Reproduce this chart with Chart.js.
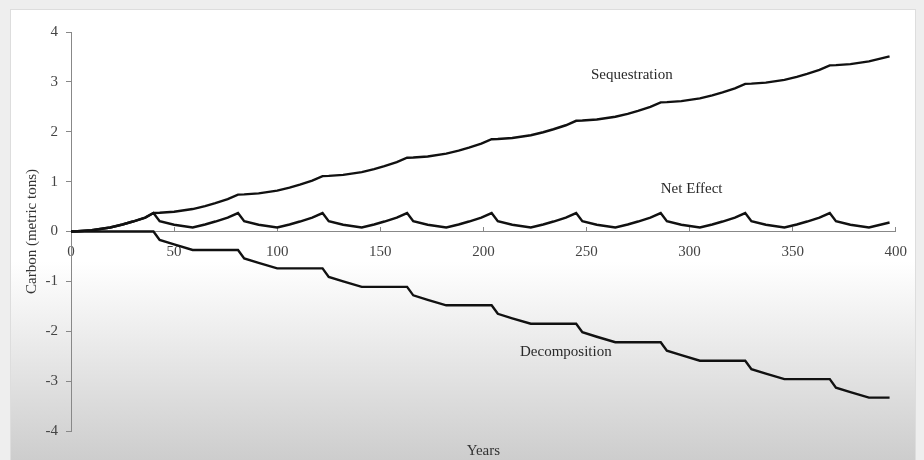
<!DOCTYPE html>
<html>
<head>
<meta charset="utf-8">
<script src="https://cdn.jsdelivr.net/npm/chart.js@4.4.1/dist/chart.umd.min.js"></script>
<style>
  html, body { margin: 0; padding: 0; background: #eeeeee; }
  #wrap { width: 924px; height: 460px; }
</style>
</head>
<body>
<div id="wrap"><canvas id="chart" width="924" height="460"></canvas></div>
<script>
// years sampled along the run (harvest every ~41 years)
var years = [0, 3, 10, 19, 25, 30, 36, 40,
    43, 50, 59, 65, 70, 76, 81,
    84, 91, 100, 106, 111, 117, 122,
    125, 132, 141, 147, 152, 158, 163,
    166, 173, 182, 188, 193, 199, 204,
    207, 214, 223, 229, 234, 240, 245,
    248, 255, 264, 270, 275, 281, 286,
    289, 296, 305, 311, 316, 322, 327,
    330, 337, 346, 352, 357, 363, 368,
    371, 378, 387, 393, 397];

var sequestration = [0, 0.005, 0.025, 0.08, 0.14, 0.2, 0.28, 0.37,
    0.375, 0.395, 0.45, 0.51, 0.57, 0.65, 0.74,
    0.745, 0.765, 0.82, 0.88, 0.94, 1.02, 1.11,
    1.115, 1.135, 1.19, 1.25, 1.31, 1.39, 1.48,
    1.485, 1.505, 1.56, 1.62, 1.68, 1.76, 1.85,
    1.855, 1.875, 1.93, 1.99, 2.05, 2.13, 2.22,
    2.225, 2.245, 2.3, 2.36, 2.42, 2.5, 2.59,
    2.595, 2.615, 2.67, 2.73, 2.79, 2.87, 2.96,
    2.965, 2.985, 3.04, 3.1, 3.16, 3.24, 3.33,
    3.335, 3.355, 3.41, 3.47, 3.51];

var decomposition = [0, 0, 0, 0, 0, 0, 0, 0,
    -0.17, -0.26, -0.37, -0.37, -0.37, -0.37, -0.37,
    -0.54, -0.63, -0.74, -0.74, -0.74, -0.74, -0.74,
    -0.91, -1.0, -1.11, -1.11, -1.11, -1.11, -1.11,
    -1.28, -1.37, -1.48, -1.48, -1.48, -1.48, -1.48,
    -1.65, -1.74, -1.85, -1.85, -1.85, -1.85, -1.85,
    -2.02, -2.11, -2.22, -2.22, -2.22, -2.22, -2.22,
    -2.39, -2.48, -2.59, -2.59, -2.59, -2.59, -2.59,
    -2.76, -2.85, -2.96, -2.96, -2.96, -2.96, -2.96,
    -3.13, -3.22, -3.33, -3.33, -3.33];

var netEffect = [0, 0.005, 0.025, 0.08, 0.14, 0.2, 0.28, 0.37,
    0.205, 0.135, 0.08, 0.14, 0.2, 0.28, 0.37,
    0.205, 0.135, 0.08, 0.14, 0.2, 0.28, 0.37,
    0.205, 0.135, 0.08, 0.14, 0.2, 0.28, 0.37,
    0.205, 0.135, 0.08, 0.14, 0.2, 0.28, 0.37,
    0.205, 0.135, 0.08, 0.14, 0.2, 0.28, 0.37,
    0.205, 0.135, 0.08, 0.14, 0.2, 0.28, 0.37,
    0.205, 0.135, 0.08, 0.14, 0.2, 0.28, 0.37,
    0.205, 0.135, 0.08, 0.14, 0.2, 0.28, 0.37,
    0.205, 0.135, 0.08, 0.14, 0.18];

var seriesNames = ['Sequestration', 'Net Effect', 'Decomposition'];

var serif = '"Liberation Serif", "DejaVu Serif", serif';

function toPoints(vals) {
    var pts = [];
    for (var i = 0; i < years.length; i++) {
        pts.push({ x: years[i], y: vals[i] });
    }
    return pts;
}

// background: light frame, white panel fading to grey at the bottom
var backdrop = {
    id: 'backdrop',
    beforeDraw: function (chart) {
        var ctx = chart.ctx;
        ctx.save();
        ctx.fillStyle = '#eeeeee';
        ctx.fillRect(0, 0, chart.width, chart.height);
        var g = ctx.createLinearGradient(0, 9, 0, chart.height);
        g.addColorStop(0, '#ffffff');
        g.addColorStop(0.56, '#ffffff');
        g.addColorStop(0.78, '#e6e6e6');
        g.addColorStop(1, '#cdcdcd');
        ctx.fillStyle = g;
        ctx.fillRect(10, 9, 906, chart.height - 9);
        ctx.strokeStyle = '#dddddd';
        ctx.lineWidth = 1;
        ctx.strokeRect(10.5, 9.5, 905, chart.height - 9);
        ctx.restore();
    }
};

// series names written next to their curves
var curveNames = {
    id: 'curveNames',
    afterDatasetsDraw: function (chart) {
        var ctx = chart.ctx;
        var xs = chart.scales.x, ys = chart.scales.y;
        var spots = [[272, 3.13], [301, 0.86], [240, -2.42]];
        ctx.save();
        ctx.font = '15px ' + serif;
        ctx.fillStyle = '#2a2a2a';
        ctx.textAlign = 'center';
        ctx.textBaseline = 'middle';
        for (var i = 0; i < seriesNames.length; i++) {
            ctx.fillText(seriesNames[i], xs.getPixelForValue(spots[i][0]), ys.getPixelForValue(spots[i][1]));
        }
        ctx.restore();
    }
};

var lineStyle = {
    borderColor: '#111111',
    borderWidth: 2.4,
    pointRadius: 0,
    tension: 0,
    fill: false
};

var ctx = document.getElementById('chart').getContext('2d');
var myChart = new Chart(ctx, {
    type: 'line',
    data: {
        datasets: [
            Object.assign({ label: seriesNames[0], data: toPoints(sequestration) }, lineStyle),
            Object.assign({ label: seriesNames[1], data: toPoints(netEffect) }, lineStyle),
            Object.assign({ label: seriesNames[2], data: toPoints(decomposition) }, lineStyle)
        ]
    },
    options: {
        responsive: false,
        animation: false,
        layout: { padding: { top: 32, right: 28, left: 0, bottom: 0 } },
        plugins: {
            legend: { display: false },
            tooltip: { enabled: false }
        },
        scales: {
            x: {
                type: 'linear',
                position: { y: 0 },
                min: 0,
                max: 400,
                ticks: {
                    stepSize: 50,
                    color: '#444444',
                    padding: 17,
                    maxRotation: 0,
                    font: { family: serif, size: 15 }
                },
                grid: {
                    drawOnChartArea: false,
                    drawTicks: true,
                    tickLength: -5,
                    color: '#888888'
                },
                border: { color: '#888888', width: 1 }
            },
            x2: {
                type: 'linear',
                position: 'bottom',
                min: 0,
                max: 400,
                display: true,
                ticks: { display: false },
                grid: { display: false, drawTicks: false },
                border: { display: false },
                title: {
                    display: true,
                    text: 'Years',
                    color: '#333333',
                    padding: 0,
                    font: { family: serif, size: 15 }
                },
                afterFit: function (scale) { scale.height = 29; }
            },
            y: {
                min: -4,
                max: 4,
                ticks: {
                    stepSize: 1,
                    color: '#444444',
                    padding: 8,
                    font: { family: serif, size: 15 }
                },
                grid: {
                    drawOnChartArea: false,
                    drawTicks: true,
                    tickLength: 5,
                    color: '#888888'
                },
                border: { color: '#888888', width: 1 },
                title: {
                    display: true,
                    text: 'Carbon (metric tons)',
                    color: '#333333',
                    padding: { top: 23, bottom: 0 },
                    font: { family: serif, size: 15 }
                },
                afterFit: function (scale) { scale.width = 71; }
            }
        }
    },
    plugins: [backdrop, curveNames]
});
</script>
</body>
</html>
